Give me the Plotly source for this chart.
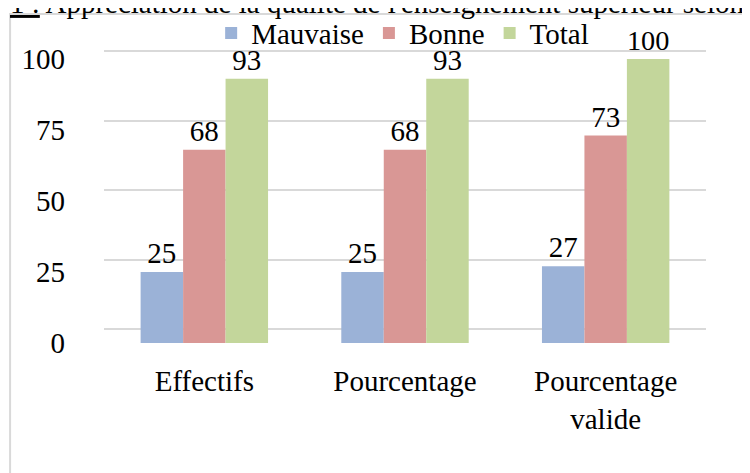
import plotly.graph_objects as go

categories = ["Effectifs", "Pourcentage", "Pourcentage<br>valide"]
series_names = ["Mauvaise", "Bonne", "Total"]
mauvaise = [25, 25, 27]
bonne = [68, 68, 73]
total = [93, 93, 100]
y_ticks = [0, 25, 50, 75, 100]
title_text = "<u>1 :</u> Appréciation de la qualité de l'enseignement supérieur selon"

colors = ["#9BB2D7", "#D99795", "#C3D69B"]
FONT = "Liberation Serif, Times New Roman, serif"

fig = go.Figure()
for name, vals, col in zip(series_names, [mauvaise, bonne, total], colors):
    fig.add_trace(go.Bar(
        x=categories, y=vals, name=name,
        marker=dict(color=col, line=dict(width=0)),
        text=[str(v) for v in vals], textposition="outside",
        textfont=dict(family=FONT, size=29, color="black"),
        cliponaxis=False,
    ))

# invisible helper trace for the back-wall gridlines axis
fig.add_trace(go.Scatter(x=[categories[0]], y=[0], yaxis="y2", mode="markers",
                         marker=dict(opacity=0), showlegend=False, hoverinfo="skip"))

fig.update_layout(
    width=750, height=473,
    margin=dict(l=96, r=52, t=37, b=138, autoexpand=False),
    paper_bgcolor="white", plot_bgcolor="white",
    font=dict(family=FONT, size=29, color="black"),
    barmode="group", bargap=0.365, bargroupgap=0,
    showlegend=True,
    legend=dict(orientation="h", x=0.178, xanchor="left", y=1.04, yanchor="middle",
                bgcolor="rgba(0,0,0,0)", font=dict(family=FONT, size=29),
                itemclick=False, traceorder="normal"),
    xaxis=dict(showgrid=False, showline=False, ticks="", ticklabelstandoff=18,
               tickfont=dict(family=FONT, size=29)),
    yaxis=dict(range=[0, 104.9], tickvals=y_ticks, showgrid=False, zeroline=False,
               showline=False, ticks="", ticklabelstandoff=38,
               tickfont=dict(family=FONT, size=29)),
    yaxis2=dict(range=[-5.04, 102.2], overlaying="y", tickvals=y_ticks, showgrid=True,
                gridcolor="#D9D9D9", gridwidth=2, zeroline=False, showticklabels=False,
                showline=False, ticks=""),
    shapes=[dict(type="rect", xref="paper", yref="paper", x0=-0.156, x1=1.3,
                 y0=-0.6, y1=1.104, line=dict(color="#D9D9D9", width=2),
                 fillcolor="rgba(0,0,0,0)", layer="below")],
    annotations=[dict(text=title_text, xref="paper", yref="paper", x=-0.16, y=1.141,
                      xanchor="left", yanchor="middle", showarrow=False,
                      font=dict(family=FONT, size=29, color="black"))],
)

fig.write_html("out.html")
